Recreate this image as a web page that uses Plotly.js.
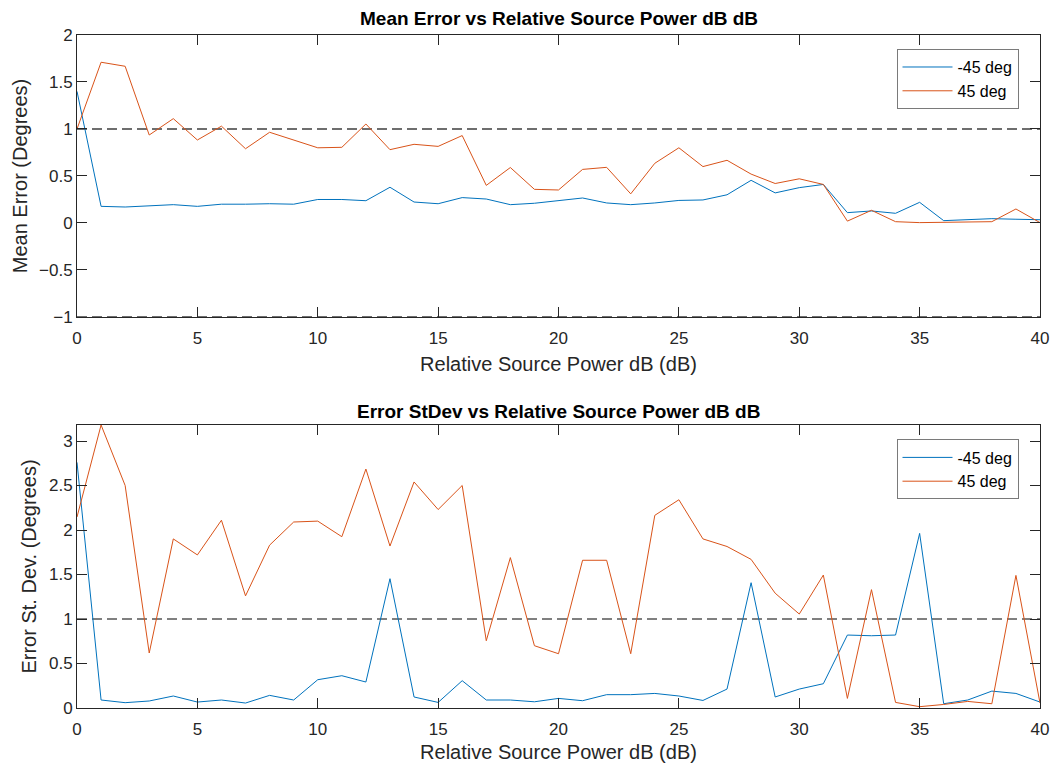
<!DOCTYPE html>
<html>
<head>
<meta charset="utf-8">
<script src="https://cdn.plot.ly/plotly-3.0.1.min.js"></script>
<style>html,body{margin:0;padding:0;background:#fff;}#chart{width:1054px;height:767px;}</style>
</head>
<body>
<div id="chart"></div>
<script>
const powerDb = [0,1,2,3,4,5,6,7,8,9,10,11,12,13,14,15,16,17,18,19,20,21,22,23,24,25,26,27,28,29,30,31,32,33,34,35,36,37,38,39,40];

const meanErrNeg45 = [1.40,0.177,0.17,0.18,0.195,0.177,0.20,0.20,0.205,0.20,0.25,0.25,0.237,0.38,0.223,0.205,0.27,0.255,0.195,0.21,0.24,0.266,0.213,0.195,0.213,0.24,0.245,0.30,0.454,0.32,0.376,0.41,0.11,0.128,0.103,0.22,0.025,0.035,0.046,0.04,0.035];
const meanErrPos45 = [1.0,1.71,1.667,0.936,1.11,0.883,1.03,0.79,0.965,0.883,0.80,0.805,1.053,0.78,0.837,0.815,0.93,0.40,0.59,0.358,0.351,0.57,0.592,0.31,0.635,0.80,0.60,0.667,0.52,0.42,0.47,0.41,0.02,0.135,0.014,0.004,0.008,0.01,0.014,0.149,0.004];

const stdNeg45 = [2.76,0.09,0.06,0.079,0.135,0.067,0.09,0.056,0.142,0.09,0.318,0.363,0.292,1.453,0.124,0.063,0.307,0.09,0.09,0.07,0.108,0.082,0.15,0.15,0.164,0.135,0.085,0.213,1.408,0.124,0.213,0.273,0.82,0.812,0.82,1.962,0.048,0.09,0.19,0.164,0.067];
const stdPos45 = [2.146,3.18,2.50,0.618,1.90,1.72,2.11,1.26,1.83,2.09,2.10,1.925,2.685,1.82,2.54,2.23,2.50,0.756,1.69,0.70,0.61,1.66,1.66,0.61,2.165,2.34,1.90,1.815,1.67,1.29,1.056,1.494,0.108,1.33,0.063,0.015,0.04,0.074,0.048,1.49,0.056];

const meanRefLevels = [1, -1];
const stdRefLevels = [1];
const xRange = [0, 40];

const seriesNames = ['-45 deg', '45 deg'];
const xTicks = [0,5,10,15,20,25,30,35,40];
const meanTicks = [-1,-0.5,0,0.5,1,1.5,2];
const stdTicks = [0,0.5,1,1.5,2,2.5,3];

const titles = ['Mean Error vs Relative Source Power dB dB', 'Error StDev vs Relative Source Power dB dB'];
const xTitle = 'Relative Source Power dB (dB)';
const yTitles = ['Mean Error (Degrees)', 'Error St. Dev. (Degrees)'];

const BLUE = '#0072BD', ORANGE = '#D95319', AX = '#262626';
const FONT = 'Liberation Sans, Arial, sans-serif';

const traces = [];
meanRefLevels.forEach(v => traces.push({x: xRange, y: [v, v], mode: 'lines', xaxis: 'x', yaxis: 'y', showlegend: false, hoverinfo: 'skip', line: {color: '#6e6e6e', width: 2, dash: '10px,5px'}}));
stdRefLevels.forEach(v => traces.push({x: xRange, y: [v, v], mode: 'lines', xaxis: 'x2', yaxis: 'y2', showlegend: false, hoverinfo: 'skip', line: {color: '#000', width: 1, dash: '10px,5px'}}));
traces.push({x: powerDb, y: meanErrNeg45, name: seriesNames[0], mode: 'lines', xaxis: 'x', yaxis: 'y', legend: 'legend', line: {color: BLUE, width: 1}});
traces.push({x: powerDb, y: meanErrPos45, name: seriesNames[1], mode: 'lines', xaxis: 'x', yaxis: 'y', legend: 'legend', line: {color: ORANGE, width: 1}});
traces.push({x: powerDb, y: stdNeg45, name: seriesNames[0], mode: 'lines', xaxis: 'x2', yaxis: 'y2', legend: 'legend2', line: {color: BLUE, width: 1}});
traces.push({x: powerDb, y: stdPos45, name: seriesNames[1], mode: 'lines', xaxis: 'x2', yaxis: 'y2', legend: 'legend2', line: {color: ORANGE, width: 1}});

function xAxis(anchor, standoff) {
  return {
    anchor: anchor, domain: [0, 1], range: xRange, tickvals: xTicks, ticks: 'inside', ticklen: 10, tickcolor: AX,
    showline: true, mirror: 'ticks', linecolor: AX, linewidth: 1, showgrid: false, zeroline: false,
    ticklabelstandoff: 6,
    tickfont: {size: 17, color: AX, family: FONT},
    title: {text: xTitle, font: {size: 20, color: AX, family: FONT}, standoff: standoff}
  };
}
function yAxis(anchor, domain, range, ticks, title) {
  return {
    anchor: anchor, domain: domain, range: range, tickvals: ticks, ticks: 'inside', ticklen: 10, tickcolor: AX,
    showline: true, mirror: 'ticks', linecolor: AX, linewidth: 1, showgrid: false, zeroline: false,
    tickfont: {size: 17, color: AX, family: FONT},
    title: {text: title, font: {size: 20, color: AX, family: FONT}, standoff: 6}
  };
}

const legendStyle = (y) => ({
  x: 0.851, y: y, xanchor: 'left', yanchor: 'top', bgcolor: '#fff', bordercolor: '#7a7a7a', borderwidth: 1,
  font: {size: 16, color: '#000', family: FONT}, tracegroupgap: 0, itemwidth: 50
});

const layout = {
  width: 1054, height: 767,
  margin: {l: 77, r: 14, t: 0, b: 0},
  paper_bgcolor: '#fff', plot_bgcolor: '#fff',
  font: {family: FONT, color: AX},
  showlegend: true,
  xaxis: xAxis('y', 9),
  yaxis: yAxis('x', [0.5867, 0.9544], [-1, 2], meanTicks, yTitles[0]),
  xaxis2: xAxis('y2', 6),
  yaxis2: yAxis('x2', [0.0769, 0.4459], [0, 3.18], stdTicks, yTitles[1]),
  legend: legendStyle(0.936),
  legend2: legendStyle(0.427),
  annotations: [
    {text: '<b>' + titles[0] + '</b>', xref: 'paper', yref: 'paper', x: 0.5, y: 0.9765, xanchor: 'center', yanchor: 'middle', showarrow: false, font: {size: 19, color: '#000', family: FONT}},
    {text: '<b>' + titles[1] + '</b>', xref: 'paper', yref: 'paper', x: 0.5, y: 0.4635, xanchor: 'center', yanchor: 'middle', showarrow: false, font: {size: 19, color: '#000', family: FONT}}
  ]
};

Plotly.newPlot('chart', traces, layout, {displayModeBar: false, staticPlot: true});
</script>
</body>
</html>
